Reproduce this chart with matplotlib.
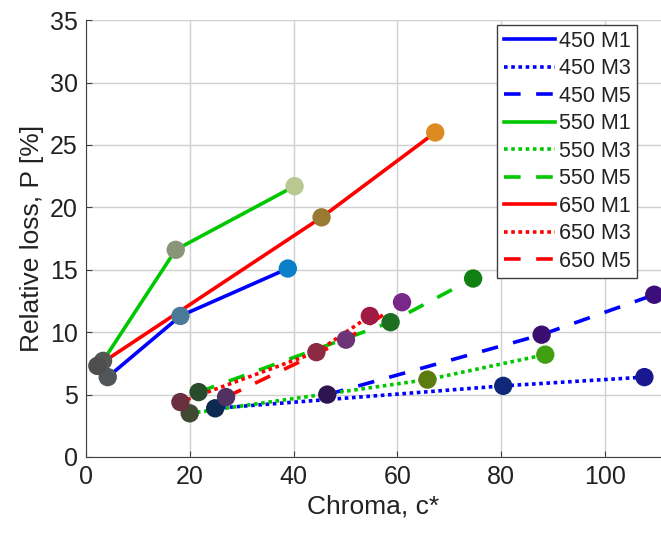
import matplotlib.pyplot as plt

plt.rcParams['font.family'] = ['Liberation Sans', 'DejaVu Sans']

# chroma (x) and relative loss (y) for each wavelength / method
labels = ['450 M1', '450 M3', '450 M5',
          '550 M1', '550 M3', '550 M5',
          '650 M1', '650 M3', '650 M5']

chroma = [
    [4.2, 18.2, 38.9],
    [24.9, 80.4, 107.6],
    [46.5, 87.8, 109.5],
    [3.3, 17.3, 40.2],
    [20.0, 65.8, 88.5],
    [21.7, 58.7, 74.6],
    [2.2, 45.4, 67.3],
    [18.2, 44.4, 54.7],
    [27.0, 50.1, 60.9],
]
loss = [
    [6.4, 11.3, 15.1],
    [3.9, 5.7, 6.4],
    [5.0, 9.8, 13.0],
    [7.7, 16.6, 21.7],
    [3.5, 6.2, 8.2],
    [5.2, 10.8, 14.3],
    [7.3, 19.2, 26.0],
    [4.4, 8.4, 11.3],
    [4.8, 9.4, 12.4],
]

# sample colours of the dots
dot_colors = [
    ['#50565a', '#4a7a98', '#0a80c8'],
    ['#0c2a52', '#10287a', '#1a1890'],
    ['#2e1450', '#3a0e70', '#3c0e7c'],
    ['#545654', '#8a9478', '#b8c890'],
    ['#404a32', '#5a7c10', '#40a010'],
    ['#2a4a2c', '#1e6e22', '#108012'],
    ['#4e4e4e', '#9a7a30', '#dc8a22'],
    ['#6a3040', '#8c2a44', '#a01a44'],
    ['#503262', '#6e3478', '#7a2888'],
]

line_colors = ['#0000ff'] * 3 + ['#00c800'] * 3 + ['#ff0000'] * 3
styles = ['solid', (0, (1, 1)), (0, (4.6, 4.3))] * 3

fig = plt.figure(figsize=(6.61, 5.36), dpi=100)
ax = fig.add_axes([0.130, 0.1474, 0.870, 0.815])

for i in range(len(labels)):
    ax.plot(chroma[i], loss[i], color=line_colors[i], linestyle=styles[i],
            linewidth=2.6, label=labels[i], zorder=2)
for i in range(len(labels)):
    ax.scatter(chroma[i], loss[i], s=175, c=dot_colors[i], zorder=3,
               linewidths=0)

ax.set_xlim(0, 110.8)
ax.set_ylim(0, 35)
ax.set_xticks([0, 20, 40, 60, 80, 100])
ax.set_yticks([0, 5, 10, 15, 20, 25, 30, 35])
ax.grid(True, color='#d0d0d0', linewidth=1)
ax.set_axisbelow(True)
ax.spines['top'].set_visible(False)
ax.spines['right'].set_visible(False)
ax.spines['left'].set_color('#404040')
ax.spines['bottom'].set_color('#404040')
ax.tick_params(labelsize=18, direction='in', length=4, color='#404040',
               labelcolor='#222222', pad=6)

ax.set_xlabel('Chroma, c*', fontsize=19, color='#222222', labelpad=4)
ax.set_ylabel('Relative loss, P [%]', fontsize=19, color='#222222', labelpad=4)

leg = ax.legend(loc='upper right', bbox_to_anchor=(0.958, 0.99), fontsize=15.5,
                handlelength=2.4, handletextpad=0.15, borderpad=0.3,
                labelspacing=0.3, borderaxespad=0, fancybox=False,
                framealpha=1)
leg.get_frame().set_edgecolor('#404040')
leg.get_frame().set_linewidth(1)
for t in leg.get_texts():
    t.set_color('#222222')

fig.savefig('out.png', dpi=100)
